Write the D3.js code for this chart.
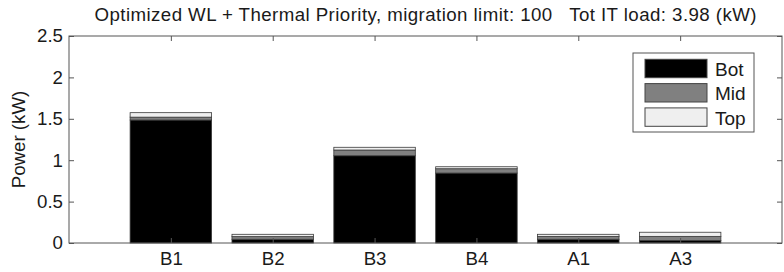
<!DOCTYPE html>
<html>
<head>
<meta charset="utf-8">
<script src="https://cdn.jsdelivr.net/npm/d3@7"></script>
<style>
  body { margin: 0; background: #fff; }
  text { font-family: "Liberation Sans", Arial, sans-serif; fill: #1a1a1a; }
</style>
</head>
<body>
<div id="chart"></div>
<script>
// data (kW)
let racks = ["B1", "B2", "B3", "B4", "A1", "A3"];
let layers = ["Bot", "Mid", "Top"];
let botPow = [1.485, 0.045, 1.054, 0.845, 0.045, 0.030];
let midPow = [0.035, 0.032, 0.069, 0.052, 0.035, 0.050];
let topPow = [0.054, 0.028, 0.033, 0.024, 0.025, 0.050];
let yTicks = [0, 0.5, 1, 1.5, 2, 2.5];
let layerColors = ["#000000", "#808080", "#efefef"];

let W = 784, H = 272,
    margin = {top: 36, right: 2, bottom: 29, left: 69};
let width = W - margin.left - margin.right,
    height = H - margin.top - margin.bottom;
let fs = "18.7px";

let svg = d3.select("#chart").append("svg")
    .attr("width", W).attr("height", H);
let g = svg.append("g")
    .attr("transform", "translate(" + margin.left + "," + margin.top + ")");

// matlab style x limits: 0 .. n+1
let x = d3.scaleLinear().domain([0, racks.length + 1]).range([0, width]);
let y = d3.scaleLinear().domain([0, 2.5]).range([height, 0]);
let barW = (x(1) - x(0)) * 0.8;

let table = racks.map(function(r, i) {
    return {rack: r, i: i + 1, Bot: botPow[i], Mid: midPow[i], Top: topPow[i]};
});
let stacked = d3.stack().keys(layers)(table);

g.selectAll(".layer")
    .data(stacked)
    .enter().append("g")
        .attr("class", "layer")
        .style("fill", function(d, i) { return layerColors[i]; })
    .selectAll("rect")
    .data(function(d) { return d; })
    .enter().append("rect")
        .attr("x", function(d) { return x(d.data.i) - barW / 2; })
        .attr("y", function(d) { return y(d[1]); })
        .attr("width", barW)
        .attr("height", function(d) { return y(d[0]) - y(d[1]); })
        .style("stroke", "#3a3a3a")
        .style("stroke-width", 0.8);

// axes, ticks inward like matlab
let xAxis = d3.axisBottom(x).tickValues(d3.range(1, racks.length + 1))
    .tickFormat(function(d) { return racks[d - 1]; }).tickSizeInner(-5).tickSizeOuter(0).tickPadding(9);
let yAxis = d3.axisLeft(y).tickValues(yTicks).tickFormat(d3.format("")).tickSizeInner(-5).tickSizeOuter(0).tickPadding(6);

let gx = g.append("g").attr("transform", "translate(0," + height + ")").call(xAxis);
let gy = g.append("g").call(yAxis);
g.append("g").call(d3.axisTop(x).tickValues(d3.range(1, racks.length + 1)).tickSize(-5).tickFormat(""));
g.append("g").attr("transform", "translate(" + width + ",0)")
    .call(d3.axisRight(y).tickValues(yTicks).tickSize(-5).tickFormat(""));

g.selectAll(".domain").remove();
g.selectAll(".tick line").style("stroke", "#555");
gx.selectAll("text").style("font-size", fs).style("fill", "#1a1a1a");
gy.selectAll("text").style("font-size", fs).style("fill", "#1a1a1a");

g.append("rect")
    .attr("width", width).attr("height", height)
    .style("fill", "none").style("stroke", "#555").style("stroke-width", 1);

// y label
svg.append("text")
    .attr("transform", "translate(25," + (margin.top + height / 2) + ") rotate(-90)")
    .style("text-anchor", "middle")
    .style("font-size", fs)
    .text("Power (kW)");

// title
svg.append("text")
    .attr("x", margin.left + width / 2)
    .attr("y", 20.5)
    .style("text-anchor", "middle")
    .style("font-size", fs)
    .attr("xml:space", "preserve")
    .attr("textLength", 662)
    .attr("lengthAdjust", "spacing")
    .text("Optimized WL + Thermal Priority, migration limit: 100   Tot IT load: 3.98 (kW)");

// legend
let leg = svg.append("g").attr("transform", "translate(633,53)");
leg.append("rect")
    .attr("width", 121).attr("height", 79)
    .style("fill", "#fff").style("stroke", "#555");
layers.forEach(function(k, i) {
    leg.append("rect")
        .attr("x", 12).attr("y", 6.3 + i * 24.3)
        .attr("width", 62).attr("height", 18.4)
        .style("fill", layerColors[i]).style("stroke", "#444");
    leg.append("text")
        .attr("x", 82).attr("y", 22.7 + i * 24.4)
        .style("font-size", "19px")
        .text(k);
});
</script>
</body>
</html>
